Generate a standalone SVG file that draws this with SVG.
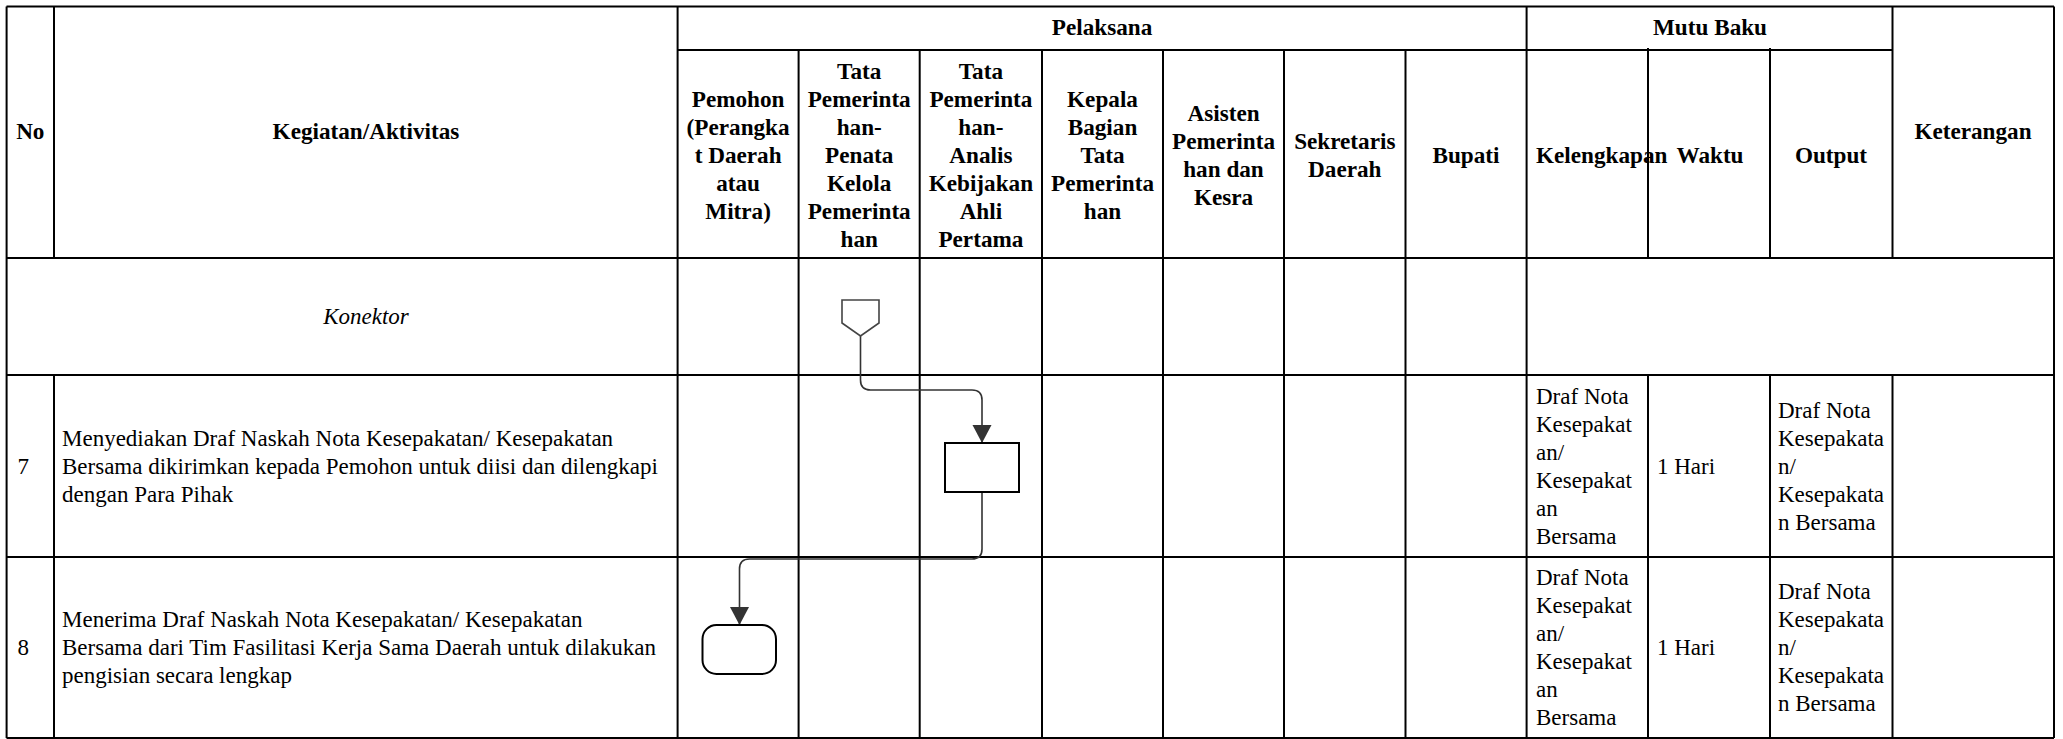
<svg xmlns="http://www.w3.org/2000/svg" width="2063" height="739" viewBox="0 0 2063 739">
<style>
.grid line{stroke:#000;stroke-width:2;}
.h{font-family:"Liberation Serif","Times New Roman",serif;font-weight:bold;font-size:23.2px;fill:#000;text-anchor:middle;}
.t{font-family:"Liberation Serif","Times New Roman",serif;font-size:23px;fill:#000;}
.i{font-style:italic;text-anchor:middle;}
.conn{fill:none;stroke:#333;stroke-width:1.6;}
.shape{fill:#fff;stroke:#000;stroke-width:2;}
</style>
<defs>
<marker id="arr" markerUnits="userSpaceOnUse" markerWidth="20" markerHeight="22" refX="18" refY="9.5" orient="auto">
<path d="M0,0 L18,9.5 L0,19 z" fill="#333"/>
</marker>
</defs>
<rect width="2063" height="739" fill="#fff"/>
<g class="grid">
<line x1="6.5" y1="6.5" x2="2054" y2="6.5"/>
<line x1="677.6" y1="50" x2="1893" y2="50"/>
<line x1="6.5" y1="258" x2="2054" y2="258"/>
<line x1="6.5" y1="375" x2="2054" y2="375"/>
<line x1="6.5" y1="557" x2="2054" y2="557"/>
<line x1="6.5" y1="738" x2="2054" y2="738"/>
<line x1="6.6" y1="6.5" x2="6.6" y2="738"/>
<line x1="54" y1="6.5" x2="54" y2="258"/>
<line x1="54" y1="375" x2="54" y2="738"/>
<line x1="677.6" y1="6.5" x2="677.6" y2="738"/>
<line x1="798.6" y1="50" x2="798.6" y2="738"/>
<line x1="919.7" y1="50" x2="919.7" y2="738"/>
<line x1="1042" y1="50" x2="1042" y2="738"/>
<line x1="1163" y1="50" x2="1163" y2="738"/>
<line x1="1284" y1="50" x2="1284" y2="738"/>
<line x1="1405.5" y1="50" x2="1405.5" y2="738"/>
<line x1="1526.6" y1="6.5" x2="1526.6" y2="738"/>
<line x1="1648" y1="48" x2="1648" y2="258"/>
<line x1="1648" y1="375" x2="1648" y2="738"/>
<line x1="1770" y1="48" x2="1770" y2="258"/>
<line x1="1770" y1="375" x2="1770" y2="738"/>
<line x1="1892.5" y1="6.5" x2="1892.5" y2="258"/>
<line x1="1892.5" y1="375" x2="1892.5" y2="738"/>
<line x1="2054" y1="6.5" x2="2054" y2="738"/>
</g>
<g id="header">
<text class="h" x="30.3" y="139">No</text>
<text class="h" x="366" y="139">Kegiatan/Aktivitas</text>
<text class="h" x="1102" y="35">Pelaksana</text>
<text class="h" x="1710" y="35">Mutu Baku</text>
<text class="h" x="1973" y="139">Keterangan</text>
<text class="h"><tspan x="738.1" y="106.5">Pemohon</tspan><tspan x="738.1" y="134.5">(Perangka</tspan><tspan x="738.1" y="162.5">t Daerah</tspan><tspan x="738.1" y="190.5">atau</tspan><tspan x="738.1" y="218.5">Mitra)</tspan></text>
<text class="h"><tspan x="859.2" y="78.5">Tata</tspan><tspan x="859.2" y="106.5">Pemerinta</tspan><tspan x="859.2" y="134.5">han-</tspan><tspan x="859.2" y="162.5">Penata</tspan><tspan x="859.2" y="190.5">Kelola</tspan><tspan x="859.2" y="218.5">Pemerinta</tspan><tspan x="859.2" y="246.5">han</tspan></text>
<text class="h"><tspan x="980.9" y="78.5">Tata</tspan><tspan x="980.9" y="106.5">Pemerinta</tspan><tspan x="980.9" y="134.5">han-</tspan><tspan x="980.9" y="162.5">Analis</tspan><tspan x="980.9" y="190.5">Kebijakan</tspan><tspan x="980.9" y="218.5">Ahli</tspan><tspan x="980.9" y="246.5">Pertama</tspan></text>
<text class="h"><tspan x="1102.5" y="106.5">Kepala</tspan><tspan x="1102.5" y="134.5">Bagian</tspan><tspan x="1102.5" y="162.5">Tata</tspan><tspan x="1102.5" y="190.5">Pemerinta</tspan><tspan x="1102.5" y="218.5">han</tspan></text>
<text class="h"><tspan x="1223.5" y="120.5">Asisten</tspan><tspan x="1223.5" y="148.5">Pemerinta</tspan><tspan x="1223.5" y="176.5">han dan</tspan><tspan x="1223.5" y="204.5">Kesra</tspan></text>
<text class="h"><tspan x="1344.8" y="148.5">Sekretaris</tspan><tspan x="1344.8" y="176.5">Daerah</tspan></text>
<text class="h" x="1466" y="162.5">Bupati</text>
<text class="h" x="1536" y="162.5" style="text-anchor:start">Kelengkapan</text>
<text class="h" x="1710" y="162.5">Waktu</text>
<text class="h" x="1831" y="162.5">Output</text>
</g>
<g id="row-konektor">
<text class="t i" x="366" y="324">Konektor</text>
</g>
<g id="row7">
<text class="t" x="17.5" y="474">7</text>
<text class="t"><tspan x="62" y="446">Menyediakan Draf Naskah Nota Kesepakatan/ Kesepakatan</tspan><tspan x="62" y="474">Bersama dikirimkan kepada Pemohon untuk diisi dan dilengkapi</tspan><tspan x="62" y="502">dengan Para Pihak</tspan></text>
<text class="t"><tspan x="1536" y="403.5">Draf Nota</tspan><tspan x="1536" y="431.5">Kesepakat</tspan><tspan x="1536" y="459.5">an/</tspan><tspan x="1536" y="487.5">Kesepakat</tspan><tspan x="1536" y="515.5">an</tspan><tspan x="1536" y="543.5">Bersama</tspan></text>
<text class="t" x="1657" y="473.5">1 Hari</text>
<text class="t"><tspan x="1778" y="417.5">Draf Nota</tspan><tspan x="1778" y="445.5">Kesepakata</tspan><tspan x="1778" y="473.5">n/</tspan><tspan x="1778" y="501.5">Kesepakata</tspan><tspan x="1778" y="529.5">n Bersama</tspan></text>
</g>
<g id="row8">
<text class="t" x="17.5" y="655">8</text>
<text class="t"><tspan x="62" y="627">Menerima Draf Naskah Nota Kesepakatan/ Kesepakatan</tspan><tspan x="62" y="655">Bersama dari Tim Fasilitasi Kerja Sama Daerah untuk dilakukan</tspan><tspan x="62" y="683">pengisian secara lengkap</tspan></text>
<text class="t"><tspan x="1536" y="585">Draf Nota</tspan><tspan x="1536" y="613">Kesepakat</tspan><tspan x="1536" y="641">an/</tspan><tspan x="1536" y="669">Kesepakat</tspan><tspan x="1536" y="697">an</tspan><tspan x="1536" y="725">Bersama</tspan></text>
<text class="t" x="1657" y="655">1 Hari</text>
<text class="t"><tspan x="1778" y="599">Draf Nota</tspan><tspan x="1778" y="627">Kesepakata</tspan><tspan x="1778" y="655">n/</tspan><tspan x="1778" y="683">Kesepakata</tspan><tspan x="1778" y="711">n Bersama</tspan></text>
</g>
<g id="connectors">
<path class="conn" d="M860.5,336 V380 Q860.5,390 870.5,390 H972 Q982,390 982,400 V443" marker-end="url(#arr)"/>
<path class="conn" d="M982,492 V549 Q982,559 972,559 H749.5 Q739.5,559 739.5,569 V625" marker-end="url(#arr)"/>
</g>
<g id="node-offpage">
<polygon points="842,300 879,300 879,323 860.5,336 842,323" fill="#fff" stroke="#444" stroke-width="1.6"/>
</g>
<g id="node-process">
<rect class="shape" x="945" y="443" width="74" height="49"/>
</g>
<g id="node-terminator">
<rect class="shape" x="702.5" y="625" width="73.5" height="49" rx="14" ry="14"/>
</g>
</svg>
